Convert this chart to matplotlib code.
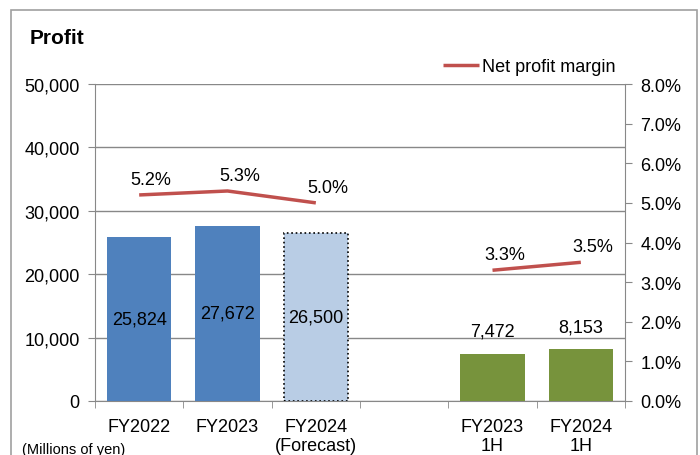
import numpy as np
import matplotlib.pyplot as plt
from matplotlib.patches import Rectangle

plt.rcParams['font.family'] = ['Liberation Sans', 'DejaVu Sans']

categories = ['FY2022', 'FY2023', 'FY2024\n(Forecast)', '', 'FY2023\n1H', 'FY2024\n1H']
profit = [25824, 27672, 26500, None, 7472, 8153]
margin = [5.2, 5.3, 5.0, None, 3.3, 3.5]

blue = '#4F81BD'
light_blue = '#B9CDE5'
green = '#77933C'
red = '#C0504D'
bar_colors = [blue, blue, light_blue, None, green, green]

fig = plt.figure(figsize=(7, 4.56), dpi=100)
fig.patches.append(Rectangle((11/700, -0.05), 686/700, 1 - 11/456 + 0.05, transform=fig.transFigure,
                             fill=False, edgecolor='#A0A0A0', linewidth=1.2))
ax = fig.add_axes([95/700, 1 - 402/456, 530/700, 317/456])
ax2 = ax.twinx()

fs = 13
x = np.arange(len(categories))
for i, v in enumerate(profit):
    if v is None:
        continue
    if i == 2:
        ax.bar(x[i], v, width=0.73, color=bar_colors[i], edgecolor='black', linestyle=':', linewidth=1.2, zorder=3)
    else:
        ax.bar(x[i], v, width=0.73, color=bar_colors[i], zorder=3)
    label = f'{v:,}'
    if i < 3:
        ax.text(x[i], v / 2, label, ha='center', va='center', fontsize=fs, zorder=5)
    else:
        ax.annotate(label, (x[i], v), xytext=(0, 14), textcoords='offset pixels',
                    ha='center', va='bottom', fontsize=fs, zorder=5)

ax.set_xlim(-0.5, 5.5)
ax.set_ylim(0, 50000)
ax.set_yticks(range(0, 50001, 10000))
ax.set_yticklabels([f'{t:,}' for t in range(0, 50001, 10000)], fontsize=fs)
ax.set_xticks(x)
ax.set_xticklabels(categories, fontsize=fs)
ax.set_xticks(np.arange(-0.5, 6, 1), minor=True)
ax.tick_params(axis='x', which='major', length=0, pad=12)
ax.tick_params(axis='x', which='minor', length=5, color='#888888')
ax.tick_params(axis='y', length=5, color='#888888', pad=6)
ax.grid(axis='y', color='#888888', linewidth=1, zorder=0)
for s in ['top', 'right']:
    ax.spines[s].set_visible(False)
for s in ['left', 'bottom']:
    ax.spines[s].set_color('#888888')

# net profit margin line (broken between full year and half year)
ax2.plot(x[:3], margin[:3], color=red, linewidth=2.5, solid_capstyle='butt', label='Net profit margin')
ax2.plot(x[4:], margin[4:], color=red, linewidth=2.5, solid_capstyle='butt')
for i, m in enumerate(margin):
    if m is None:
        continue
    ax2.annotate(f'{m:.1f}%', (x[i], m), xytext=(12, 7), textcoords='offset pixels',
                 ha='center', va='bottom', fontsize=fs)
ax2.set_ylim(0, 8)
ax2.set_yticks(np.arange(0, 8.01, 1))
ax2.set_yticklabels([f'{t:.1f}%' for t in np.arange(0, 8.01, 1)], fontsize=fs)
ax2.tick_params(axis='y', length=5, color='#888888', pad=6)
for s in ['top', 'left', 'bottom']:
    ax2.spines[s].set_visible(False)
ax2.spines['right'].set_color('#888888')

ax2.legend(loc='lower right', bbox_to_anchor=(1.0, 1.0), frameon=False, fontsize=fs,
           handlelength=2.0, handletextpad=0.2, borderaxespad=0.1)

fig.text(30/700, 1 - 38/456, 'Profit', fontsize=15, fontweight='bold', va='center')
fig.text(22/700, 1 - 450/456, '(Millions of yen)', fontsize=10.5, va='center')

fig.savefig('out.png', dpi=100)
